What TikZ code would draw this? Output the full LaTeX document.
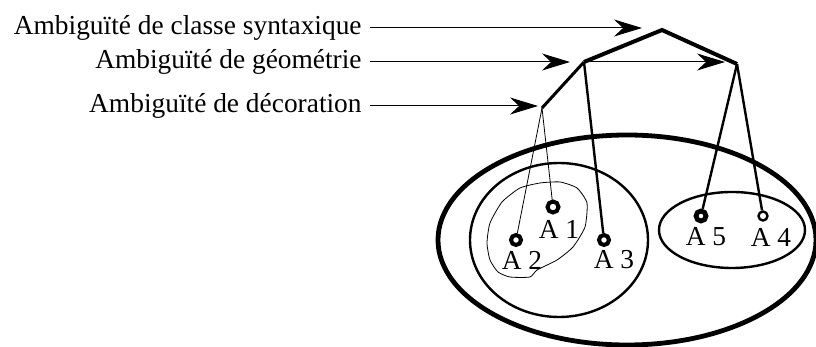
\documentclass[tikz,border=0pt]{standalone}
\usepackage{fontspec}
\setmainfont{Liberation Serif}
\usetikzlibrary{arrows.meta}

\begin{document}
\begin{tikzpicture}[x=0.5pt,y=-0.5pt,
  lbl/.style={anchor=east,inner sep=4pt,font=\fontsize{13.7}{16}\selectfont},
  ptlbl/.style={inner sep=0pt,font=\fontsize{13.7}{16}\selectfont},
  ptmark/.style={circle,draw,fill=white,line width=2pt,inner sep=0pt,minimum size=5pt},
  ptr/.style={-{Stealth[length=14pt,width=8.5pt]},line width=0.5pt,shorten >=#1}]
  \useasboundingbox (0,0) rectangle (816,347);
  % the three kinds of ambiguity
  \node[lbl] (lsyn) at (370,28) {Ambiguïté de classe syntaxique};
  \node[lbl] (lgeo) at (370,62) {Ambiguïté de géométrie};
  \node[lbl] (ldec) at (370,106) {Ambiguïté de décoration};
  % tree of the classes
  \coordinate (syn) at (662,30);
  \coordinate (geo) at (584,62);
  \coordinate (dec) at (542,108);
  \coordinate (grp) at (737,64);
  % sets
  \draw[line width=2.4pt] (627,240) ellipse (189 and 105);
  \draw[line width=1.2pt] (559,240) ellipse (89 and 77);
  \draw[line width=1.2pt] (732,230) ellipse (73 and 38);
  \draw[line width=0.4pt] plot[smooth cycle,tension=0.35] coordinates {
    (540,183) (560,182) (577,188) (587,203) (585,227) (573,247) (557,260)
    (537,270) (530,277) (510,277) (498,272) (490,260) (487,243) (490,223)
    (502,202) (520,188)};
  % the five objects
  \node[ptmark,minimum size=5.5pt] (p1) at (553,207) {};
  \node[ptmark] (p2) at (516,240) {};
  \node[ptmark] (p3) at (604,240) {};
  \node[ptmark,line width=2.4pt,minimum size=5pt] (p5) at (701,216) {};
  \node[ptmark,line width=1.2pt,minimum size=4.5pt] (p4) at (763,216) {};
  \node[ptlbl] (a1) at (559,229) {A 1};
  \node[ptlbl] (a2) at (522,260) {A 2};
  \node[ptlbl] (a3) at (614,260) {A 3};
  \node[ptlbl] (a5) at (706,237) {A 5};
  \node[ptlbl] (a4) at (771,237) {A 4};
  % branches
  \draw[line width=2pt] (geo) -- (syn) -- (grp);
  \draw[line width=1.5pt] (dec) -- (geo);
  \draw[line width=1.2pt] (geo) -- (p3);
  \draw[line width=1.2pt] (grp) -- (p5);
  \draw[line width=1.2pt] (grp) -- (p4);
  \draw[line width=0.4pt] (dec) -- (p1);
  \draw[line width=0.4pt] (dec) -- (p2);
  % arrows
  \draw[ptr=10pt] (lsyn.east) -- (lsyn.east -| syn);
  \draw[ptr=7pt] (lgeo.east) -- (lgeo.east -| geo);
  \draw[ptr=6pt] (geo) -- (geo -| grp);
  \draw[ptr=2pt] (ldec.east) -- (ldec.east -| dec);
\end{tikzpicture}
\end{document}
